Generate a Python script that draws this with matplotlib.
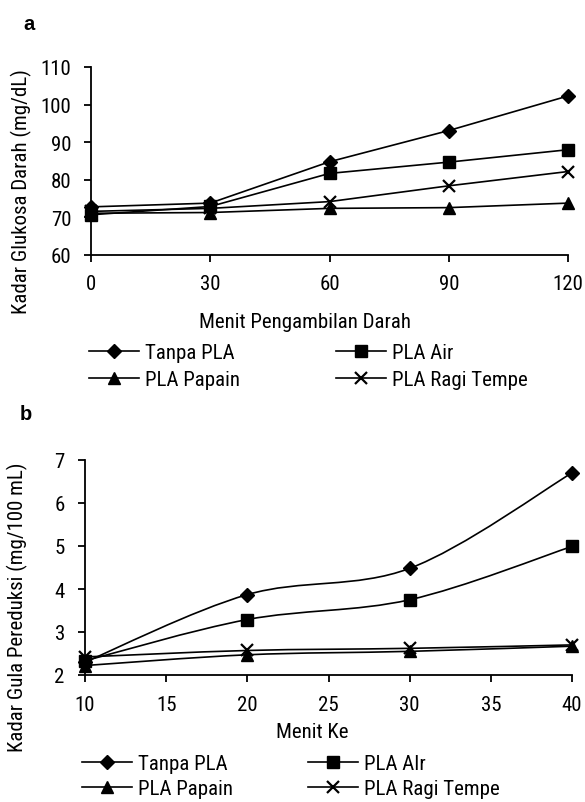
import numpy as np
import matplotlib
matplotlib.use('Agg')
import matplotlib.pyplot as plt
from matplotlib.path import Path
from matplotlib.patches import PathPatch
from matplotlib.lines import Line2D

plt.rcParams['font.family'] = ['Roboto Condensed', 'PT Sans Narrow', 'DejaVu Sans']
plt.rcParams['font.size'] = 15

# data panel a
menit_a = [0, 30, 60, 90, 120]
tanpa_a = [72.8, 73.8, 84.8, 93.1, 102.3]
air_a = [70.7, 72.9, 81.7, 84.7, 88.0]
papain_a = [71.1, 71.3, 72.4, 72.6, 73.8]
ragi_a = [71.6, 72.4, 74.2, 78.4, 82.2]

# data panel b
menit_b = [10, 20, 30, 40]
tanpa_b = [2.30, 3.87, 4.48, 6.70]
air_b = [2.33, 3.29, 3.75, 4.99]
papain_b = [2.22, 2.47, 2.55, 2.67]
ragi_b = [2.42, 2.57, 2.62, 2.70]

labels_a = ['Tanpa PLA', 'PLA Air', 'PLA Papain', 'PLA Ragi Tempe']
labels_b = ['Tanpa PLA', 'PLA AIr', 'PLA Papain', 'PLA Ragi Tempe']
markers = ['D', 's', '^', 'x']
msizes = [7, 8.5, 8.5, 8]
LW = 1.2

W, H = 585, 803
fig = plt.figure(figsize=(W / 100, H / 100), dpi=100)


def box(l, r, t, b):
    return [l / W, 1 - b / H, (r - l) / W, (b - t) / H]


def style(ax, pad):
    for s in ['top', 'right']:
        ax.spines[s].set_visible(False)
    for s in ['left', 'bottom']:
        ax.spines[s].set_linewidth(1.3)
    ax.tick_params(direction='out', length=5, width=1.3, labelsize=15, pad=pad)


def smooth_path(x, y):
    # bezier segments like a spreadsheet "smoothed line"
    pts = np.column_stack([x, y]).astype(float)
    n = len(pts)
    verts = [pts[0]]
    codes = [Path.MOVETO]
    for i in range(n - 1):
        p0 = pts[i - 1] if i > 0 else pts[i]
        p1, p2 = pts[i], pts[i + 1]
        p3 = pts[i + 2] if i + 2 < n else pts[i + 1]
        c1 = p1 + (p2 - p0) / 6
        c2 = p2 - (p3 - p1) / 6
        verts += [c1, c2, p2]
        codes += [Path.CURVE4] * 3
    return Path(verts, codes)


def make_legend(ax, labels, anchor, colsp, rowsp):
    handles = [Line2D([], [], color='black', lw=LW, marker=m, ms=s,
                      mew=1.6 if m == 'x' else 1)
               for m, s in zip(markers, msizes)]
    # column-first fill: reorder so rows read Tanpa/Air, Papain/Ragi
    order = [0, 2, 1, 3]
    ax.legend([handles[i] for i in order], [labels[i] for i in order],
              ncol=2, loc='upper left', bbox_to_anchor=anchor,
              bbox_transform=fig.transFigure, frameon=False, fontsize=15,
              handlelength=2.4, handletextpad=0.3, columnspacing=colsp,
              labelspacing=rowsp, borderpad=0, borderaxespad=0)


# panel a
ax1 = fig.add_axes(box(91, 568, 68, 256))
for vals, m, s in zip([tanpa_a, air_a, papain_a, ragi_a], markers, msizes):
    ax1.plot(menit_a, vals, color='black', lw=LW, marker=m, ms=s,
             mew=1.6 if m == 'x' else 1, clip_on=False)
ax1.set_xlim(0, 120)
ax1.set_ylim(60, 110)
ax1.set_xticks(menit_a)
ax1.set_yticks(range(60, 111, 10))
style(ax1, 9)
fig.text(305 / W, 1 - 322 / H, 'Menit Pengambilan Darah', ha='center', va='center', fontsize=15)
fig.text(21 / W, 1 - 192 / H, 'Kadar Glukosa Darah (mg/dL)', rotation=90,
         ha='center', va='center', fontsize=15)
fig.text(29 / W, 1 - 24 / H, 'a', ha='center', va='center', fontsize=14.5,
         fontweight='bold', family=['Liberation Sans', 'DejaVu Sans'])
make_legend(ax1, labels_a, (89 / W, 1 - 344 / H), 4.6, 0.39)

# panel b
ax2 = fig.add_axes(box(85, 572, 461, 676))
for vals, m, s in zip([tanpa_b, air_b, papain_b, ragi_b], markers, msizes):
    ax2.add_patch(PathPatch(smooth_path(menit_b, vals), facecolor='none',
                            edgecolor='black', lw=LW, clip_on=False))
    ax2.plot(menit_b, vals, ls='none', color='black', marker=m, ms=s,
             mew=1.6 if m == 'x' else 1, clip_on=False)
ax2.set_xlim(10, 40)
ax2.set_ylim(2, 7)
ax2.set_xticks(range(10, 41, 5))
ax2.set_yticks(range(2, 8))
style(ax2, 9.5)
fig.text(312 / W, 1 - 733 / H, 'Menit Ke', ha='center', va='center', fontsize=15)
fig.text(17 / W, 1 - 607 / H, 'Kadar Gula Pereduksi (mg/100 mL)', rotation=90,
         ha='center', va='center', fontsize=15)
fig.text(26 / W, 1 - 415 / H, 'b', ha='center', va='center', fontsize=14.5,
         fontweight='bold', family=['Liberation Sans', 'DejaVu Sans'])
make_legend(ax2, labels_b, (82 / W, 1 - 755 / H), 3.6, 0.28)

fig.savefig('out.png', dpi=100, facecolor='white')
